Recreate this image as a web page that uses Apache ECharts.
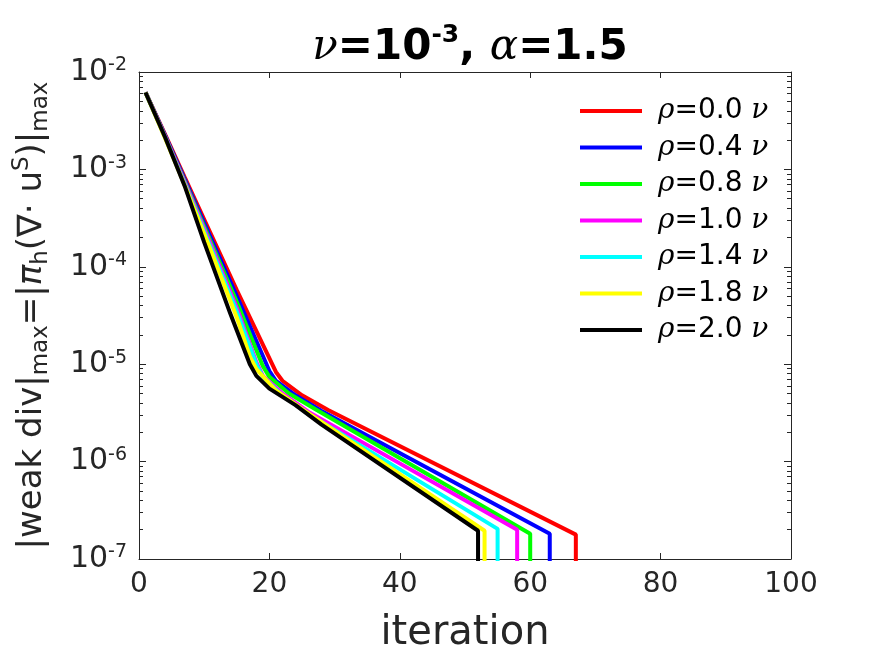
<!DOCTYPE html>
<html>
<head>
<meta charset="utf-8">
<script src="https://cdn.jsdelivr.net/npm/echarts@6/dist/echarts.min.js"></script>
<style>
  html, body { margin: 0; padding: 0; background: #fff; }
  #main { width: 875px; height: 656px; }
</style>
</head>
<body>
<div id="main"></div>
<script>
// rho values of the legend
var rhoLabels = ['0.0', '0.4', '0.8', '1.0', '1.4', '1.8', '2.0'];
var lineColors = ['#ff0000', '#0000ff', '#00ff00', '#ff00ff', '#00ffff', '#ffff00', '#000000'];

// iteration / |weak div|max (last point drops below the axis)
var itRed = [1, 4, 7, 11, 15, 21, 22, 25, 29, 67, 67];
var divRed = [6.17e-3, 2.29e-3, 8.32e-4, 2.19e-4, 5.75e-5, 8.32e-6, 6.76e-6, 4.79e-6, 3.39e-6, 1.78e-7, 1e-8];

var itBlue = [1, 4, 7, 11, 15, 20, 21, 24, 28, 63, 63];
var divBlue = [6.17e-3, 2.24e-3, 7.94e-4, 2.0e-4, 5.01e-5, 8.51e-6, 6.76e-6, 4.79e-6, 3.31e-6, 1.82e-7, 1e-8];

var itGreen = [1, 4, 7, 11, 15, 19, 20, 23, 27, 60, 60];
var divGreen = [6.17e-3, 2.19e-3, 7.59e-4, 1.82e-4, 4.37e-5, 9.55e-6, 7.41e-6, 5.01e-6, 3.47e-6, 1.82e-7, 1e-8];

var itMagenta = [1, 4, 7, 11, 15, 18, 19, 22, 26, 58, 58];
var divMagenta = [6.17e-3, 2.19e-3, 7.41e-4, 1.70e-4, 3.80e-5, 1.05e-5, 7.59e-6, 5.01e-6, 3.24e-6, 2.0e-7, 1e-8];

var itCyan = [1, 4, 7, 11, 15, 18, 19, 22, 26, 55, 55];
var divCyan = [6.17e-3, 2.14e-3, 7.08e-4, 1.58e-4, 3.47e-5, 1.0e-5, 7.41e-6, 4.79e-6, 3.09e-6, 2.04e-7, 1e-8];

var itYellow = [1, 4, 7, 11, 15, 17, 18, 21, 25, 53, 53];
var divYellow = [6.17e-3, 2.09e-3, 6.92e-4, 1.48e-4, 3.02e-5, 1.20e-5, 8.91e-6, 5.37e-6, 3.47e-6, 1.95e-7, 1e-8];

var itBlack = [1, 4, 7, 10, 14, 17, 18, 20, 24, 28, 52, 52];
var divBlack = [6.17e-3, 2.14e-3, 6.76e-4, 1.78e-4, 3.31e-5, 1.0e-5, 7.59e-6, 5.62e-6, 3.80e-6, 2.40e-6, 1.95e-7, 1e-8];

var xTicks = [0, 20, 40, 60, 80, 100];
var yTicks = [1e-7, 1e-6, 1e-5, 1e-4, 1e-3, 1e-2];

var allIts = [itRed, itBlue, itGreen, itMagenta, itCyan, itYellow, itBlack];
var allDivs = [divRed, divBlue, divGreen, divMagenta, divCyan, divYellow, divBlack];

// log minor ticks 2..9 in each decade
var yMinor = [];
for (var d = 0; d < yTicks.length - 1; d++) {
  for (var m = 2; m <= 9; m++) {
    yMinor.push(m * yTicks[d]);
  }
}

var axisColor = '#262626';
var fontSans = 'DejaVu Sans';

function pairs(xs, ys) {
  var out = [];
  for (var i = 0; i < xs.length; i++) out.push([xs[i], ys[i]]);
  return out;
}

var series = [];
for (var k = 0; k < rhoLabels.length; k++) {
  series.push({
    name: 'ρ=' + rhoLabels[k] + ' ν',
    type: 'line',
    yAxisIndex: 0,
    showSymbol: false,
    symbol: 'none',
    clip: true,
    color: lineColors[k],
    itemStyle: { color: lineColors[k] },
    lineStyle: { color: lineColors[k], width: 4 },
    data: pairs(allIts[k], allDivs[k])
  });
}

function yAxisDef(pos, ticks, len, showLine, showLabel) {
  return {
    type: 'log',
    logBase: 10,
    min: 1e-7,
    max: 1e-2,
    position: pos,
    axisLine: { show: showLine, lineStyle: { color: axisColor, width: 1 } },
    axisTick: { show: true, inside: true, length: len, customValues: ticks, lineStyle: { color: axisColor } },
    axisLabel: { show: showLabel },
    splitLine: { show: false },
    minorTick: { show: false }
  };
}

var yMain = yAxisDef('left', yTicks, 7, true, true);
yMain.axisLabel = {
  show: true,
  customValues: yTicks,
  margin: 12,
  color: axisColor,
  fontFamily: fontSans,
  fontSize: 30,
  lineHeight: 32,
  formatter: function (v) {
    return '10{sup|' + Math.round(Math.log(v) / Math.LN10) + '}';
  },
  rich: {
    sup: { fontFamily: fontSans, fontSize: 19, lineHeight: 19, verticalAlign: 'top', color: axisColor }
  }
};
yMain.name = '|weak div|{sub|max}=|{gi|π}{sub|h}(∇· u{sup|S})|{sub|max}';
yMain.nameLocation = 'middle';
yMain.nameRotate = 90;
yMain.nameGap = 86;
yMain.nameTextStyle = {
  color: axisColor,
  fontFamily: fontSans,
  fontSize: 34,
  lineHeight: 42,
  rich: {
    sub: { fontFamily: fontSans, fontSize: 23, lineHeight: 23, verticalAlign: 'bottom', color: axisColor },
    sup: { fontFamily: fontSans, fontSize: 23, lineHeight: 23, verticalAlign: 'top', color: axisColor },
    gi: { fontFamily: fontSans, fontStyle: 'italic', fontSize: 34, color: axisColor }
  }
};

var option = {
  animation: false,
  backgroundColor: '#fff',
  title: {
    text: '{gi|ν}{b|=10}{bs|-3}{b|, }{gi|α}{b|=1.5}',
    left: 465,
    top: 18,
    textAlign: 'center',
    textStyle: {
      lineHeight: 50,
      rich: {
        b: { fontFamily: fontSans, fontWeight: 'bold', fontSize: 42, lineHeight: 50, color: '#000' },
        bs: { fontFamily: fontSans, fontWeight: 'bold', fontSize: 25, lineHeight: 25, verticalAlign: 'top', color: '#000' },
        gi: { fontFamily: 'DejaVu Serif', fontStyle: 'italic', fontWeight: 'normal', fontSize: 42, lineHeight: 50, color: '#000' }
      }
    }
  },
  grid: {
    left: 139,
    right: 84,
    top: 72,
    bottom: 97,
    containLabel: false,
    outerBoundsMode: 'none'
  },
  legend: {
    orient: 'vertical',
    left: 580,
    top: 96,
    padding: 0,
    itemWidth: 62,
    itemHeight: 4,
    itemGap: 6.5,
    icon: 'rect',
    data: series.map(function (s) { return s.name; }),
    formatter: function (name) {
      return name.replace('ρ', '{g|ρ}').replace('ν', '{g|ν}');
    },
    textStyle: {
      color: '#000',
      fontFamily: fontSans,
      fontSize: 28,
      lineHeight: 30,
      padding: [0, 0, 0, 11],
      rich: {
        g: { fontFamily: 'DejaVu Serif', fontStyle: 'italic', fontSize: 28, color: '#000' }
      }
    }
  },
  xAxis: [
    {
      type: 'value',
      min: 0,
      max: 100,
      interval: 20,
      position: 'bottom',
      name: 'iteration',
      nameLocation: 'middle',
      nameGap: 55,
      nameTextStyle: { color: axisColor, fontFamily: fontSans, fontSize: 40 },
      axisLine: { show: true, onZero: false, lineStyle: { color: axisColor, width: 1 } },
      axisTick: { show: true, inside: true, length: 6, lineStyle: { color: axisColor } },
      axisLabel: {
        show: true,
        margin: 12,
        color: axisColor,
        fontFamily: fontSans,
        fontSize: 28,
        customValues: xTicks
      },
      splitLine: { show: false }
    },
    {
      type: 'value',
      min: 0,
      max: 100,
      interval: 20,
      position: 'top',
      axisLine: { show: true, onZero: false, lineStyle: { color: axisColor, width: 1 } },
      axisTick: { show: true, inside: true, length: 6, lineStyle: { color: axisColor } },
      axisLabel: { show: false },
      splitLine: { show: false }
    }
  ],
  yAxis: [
    yMain,
    yAxisDef('left', yMinor, 4, false, false),
    yAxisDef('right', yTicks, 7, true, false),
    yAxisDef('right', yMinor, 4, false, false)
  ],
  series: series
};

var myChart = echarts.init(document.getElementById('main'));
myChart.setOption(option);
window.addEventListener('resize', function () {
  myChart.resize();
});
</script>
</body>
</html>
